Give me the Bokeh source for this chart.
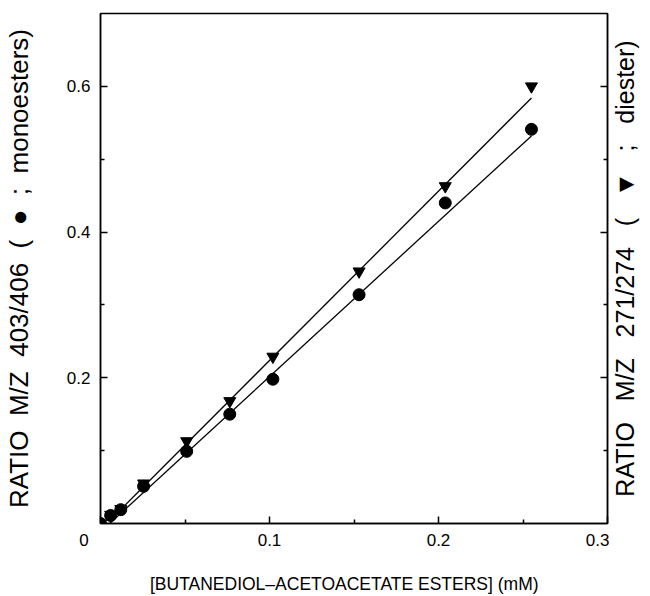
import math
from bokeh.plotting import figure
from bokeh.layouts import row
from bokeh.models import LinearAxis, FixedTicker, Range1d
from bokeh.core.properties import value
from bokeh.embed import file_html
from bokeh.resources import INLINE

# Data
conc = [0.0, 0.006, 0.012, 0.0255, 0.051, 0.0765, 0.102, 0.153, 0.204, 0.255]
mono_ratio = [0.0, 0.011, 0.019, 0.051, 0.099, 0.150, 0.198, 0.314, 0.440, 0.541]
di_ratio = [0.0, 0.012, 0.020, 0.055, 0.113, 0.168, 0.229, 0.346, 0.463, 0.600]
fit_x = [0.005, 0.255]
mono_fit = [-0.001, 0.532]
di_fit = [0.003, 0.584]

x_major = [0.0, 0.1, 0.2, 0.3]
x_minor = [0.05, 0.15, 0.25]
y_major = [0.2, 0.4, 0.6]
y_minor = [0.1, 0.3, 0.5]

NB = "\u00a0"
FONT = "Liberation Sans"
left_title = "RATIO M/Z 403/406 ( \u25cf ; monoesters)".replace(" ", NB * 2)
right_title = "RATIO M/Z 271/274 ( \u25bc ; diester)".replace(" ", NB * 3)
x_title = "[BUTANEDIOL\u2013ACETOACETATE ESTERS] (mM)" + NB * 4

H = 596
TOP, BOTTOM = 13, 71
p = figure(width=609, height=H, output_backend="svg", toolbar_location=None,
           x_range=Range1d(0, 0.3), y_range=Range1d(0, 0.7),
           min_border_left=98, min_border_right=2, min_border_top=TOP, min_border_bottom=BOTTOM)
p.xgrid.visible = False
p.ygrid.visible = False
p.outline_line_color = "black"
p.outline_line_width = 1.5
p.background_fill_color = "white"
p.border_fill_color = "white"

xa = p.xaxis[0]
xa.ticker = FixedTicker(ticks=x_major, minor_ticks=x_minor)
xa.major_label_overrides = {0.0: "0" + NB * 7}
xa.axis_label = x_title
ya = p.yaxis[0]
ya.ticker = FixedTicker(ticks=y_major, minor_ticks=y_minor)
ya.axis_label = left_title

ra = LinearAxis(ticker=FixedTicker(ticks=y_major, minor_ticks=y_minor))
p.add_layout(ra, "right")

for ax in [xa, ya, ra]:
    ax.axis_line_width = 1.5
    ax.axis_line_color = "black"
    ax.major_tick_in = 7
    ax.major_tick_out = 0
    ax.minor_tick_in = 4
    ax.minor_tick_out = 0
    ax.major_tick_line_width = 1.5
    ax.minor_tick_line_width = 1.5
    ax.major_label_text_font = FONT
    ax.major_label_text_font_size = "17px"
    ax.major_label_text_color = "black"
    ax.axis_label_text_font = FONT
    ax.axis_label_text_font_size = "26px"
    ax.axis_label_text_font_style = "normal"
    ax.axis_label_text_color = "black"

xa.axis_label_text_font_size = "17.5px"
xa.major_label_standoff = 7
xa.axis_label_standoff = 21
ya.major_label_standoff = 10
ya.axis_label_standoff = 30
ra.major_label_overrides = {0.2: "", 0.4: "", 0.6: ""}
ra.major_label_standoff = 0

p.line(fit_x, mono_fit, line_color="black", line_width=1.3)
p.line(fit_x, di_fit, line_color="black", line_width=1.3)
p.scatter(conc, di_ratio, marker="inverted_triangle", size=12, color="black")
p.scatter(conc, mono_ratio, marker="circle", size=12, color="black")

# right-hand axis title (reads bottom to top)
p2 = figure(width=33, height=H, output_backend="svg", toolbar_location=None,
            x_range=Range1d(-15, 18), y_range=Range1d(-1, 1),
            x_axis_location=None, y_axis_location=None,
            min_border_left=0, min_border_right=0, min_border_top=TOP, min_border_bottom=BOTTOM)
p2.xgrid.visible = False
p2.ygrid.visible = False
p2.outline_line_color = None
p2.border_fill_color = "white"
p2.text(x=[0], y=[0], text=[right_title], angle=math.pi / 2,
        text_align="center", text_baseline="middle",
        text_font=value(FONT), text_font_size="25px", text_color="black")

layout = row(p, p2, spacing=0)
open("out.html", "w").write(file_html(layout, INLINE))
